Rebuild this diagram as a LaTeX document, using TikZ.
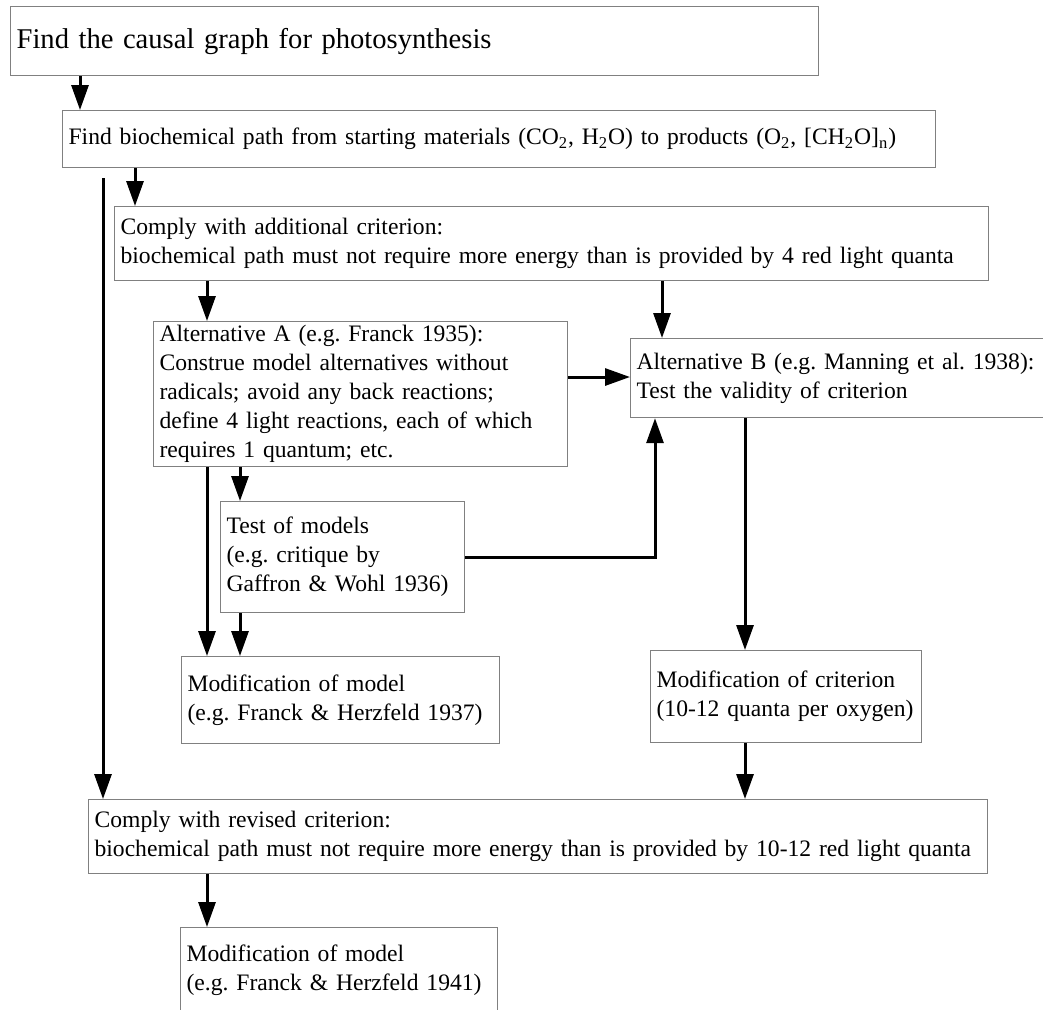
\documentclass[tikz,border=0pt]{standalone}
\usepackage{fontspec}
\setmainfont{Liberation Serif}
\usetikzlibrary{arrows.meta}
\frenchspacing
\begin{document}
\begin{tikzpicture}[x=0.5pt,y=-0.5pt,
     box/.style={draw=black!50,line width=0.6pt,anchor=north west,align=left,
        inner xsep=3pt,inner ysep=0pt,font=\fontsize{11.8}{14.5}\selectfont},
     arr/.style={line width=1.5pt,-{Triangle[length=12.5pt,width=8.5pt]}}]
     		\useasboundingbox (0,0) rectangle (1043,1009);
     		\clip (0,0) rectangle (1043,1009);
     		% boxes, by their top left corners
     		\node[box,text width=398pt,minimum height=34.5pt,font=\fontsize{14.3}{17}\selectfont] (graph) at (10,6)
     		  {Find the causal graph for photosynthesis};
     		\node[box,text width=430.5pt,minimum height=28.5pt] (path) at (62,110)
     		  {Find biochemical path from starting materials (CO\textsubscript{2}, H\textsubscript{2}O) to products (O\textsubscript{2}, [CH\textsubscript{2}O]\textsubscript{n})};
     		\node[box,text width=431pt,minimum height=37pt] (crit) at (114,206)
     		  {Comply with additional criterion:\\biochemical path must not require more energy than is provided by 4 red light quanta};
     		\node[box,text width=201pt,minimum height=72.5pt] (altA) at (153,321)
     		  {Alternative A (e.g. Franck 1935):\\Construe model alternatives without\\radicals; avoid any back reactions;\\define 4 light reactions, each of which\\requires 1 quantum; etc.};
     		\node[box,text width=205pt,minimum height=39.5pt] (altB) at (630,338)
     		  {Alternative B (e.g. Manning et al. 1938):\\Test the validity of criterion};
     		\node[box,text width=116pt,minimum height=55.5pt] (test) at (220,501)
     		  {Test of models\\(e.g. critique by\\Gaffron \& Wohl 1936)};
     		\node[box,text width=153pt,minimum height=43.5pt] (modA) at (181,656)
     		  {Modification of model\\(e.g. Franck \& Herzfeld 1937)};
     		\node[box,text width=129.5pt,minimum height=46pt] (modB) at (650,650)
     		  {Modification of criterion\\(10-12 quanta per oxygen)};
     		\node[box,text width=443.5pt,minimum height=37pt] (rev) at (88,799)
     		  {Comply with revised criterion:\\biochemical path must not require more energy than is provided by 10-12 red light quanta};
     		\node[box,text width=152.5pt,minimum height=43pt] (modC) at (180,927)
     		  {Modification of model\\(e.g. Franck \& Herzfeld 1941)};
     		% columns and rows the arrows run along
     		\coordinate (xa) at (80,0);
     		\coordinate (xb) at (103,0);
     		\coordinate (xc) at (135,0);
     		\coordinate (xd) at (207,0);
     		\coordinate (xe) at (240,0);
     		\coordinate (xg) at (655,0);
     		\coordinate (xh) at (662,0);
     		\coordinate (xi) at (745,0);
     		\coordinate (yab) at (0,377);
     		\draw[arr] (xa |- graph.south) -- (xa |- path.north);
     		\draw[arr] (xc |- path.south) -- (xc |- crit.north);
     		\draw[arr,shorten <=5pt] (xb |- path.south) -- (xb |- rev.north);
     		\draw[arr] (xd |- crit.south) -- (xd |- altA.north);
     		\draw[arr] (xh |- crit.south) -- (xh |- altB.north);
     		\draw[arr] (altA.east |- yab) -- (altB.west |- yab);
     		\draw[arr] (xe |- altA.south) -- (xe |- test.north);
     		\draw[arr] (xd |- altA.south) -- (xd |- modA.north);
     		\draw[arr] (xe |- test.south) -- (xe |- modA.north);
     		\draw[arr] (test.east) -| (xg |- altB.south);
     		\draw[arr] (xi |- altB.south) -- (xi |- modB.north);
     		\draw[arr] (xi |- modB.south) -- (xi |- rev.north);
     		\draw[arr] (xd |- rev.south) -- (xd |- modC.north);
\end{tikzpicture}
\end{document}
